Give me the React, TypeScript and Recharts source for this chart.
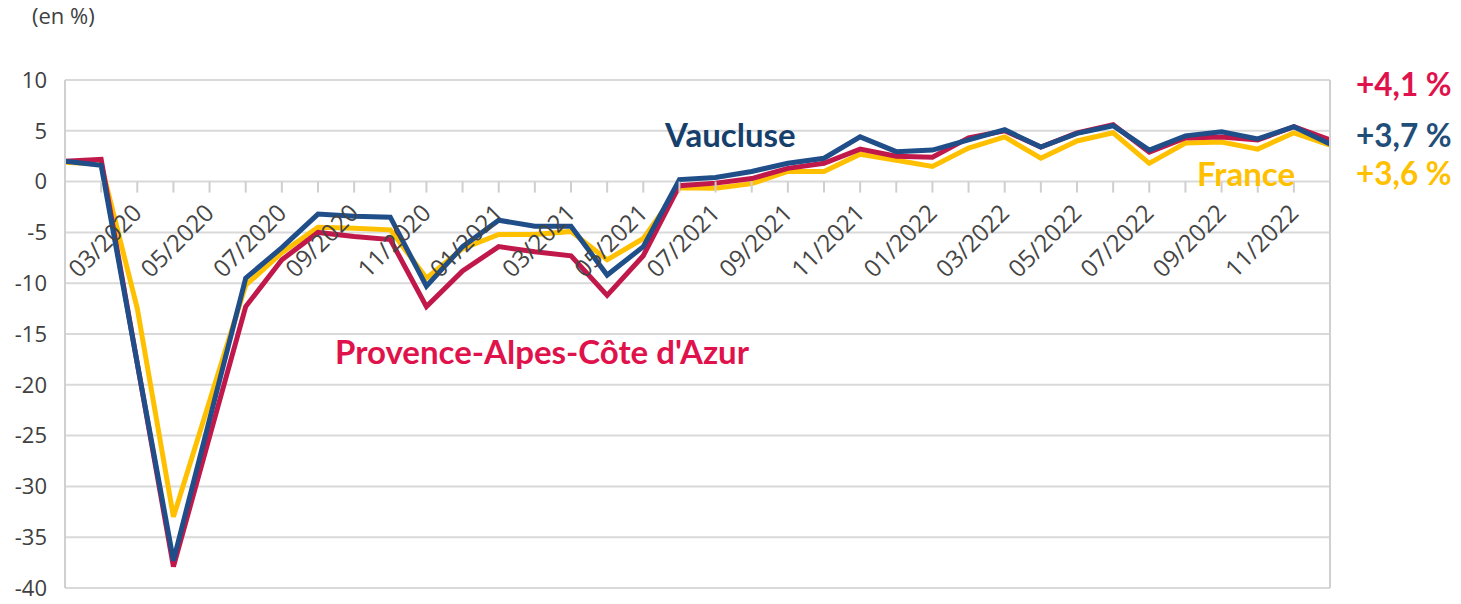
import { LineChart, Line, XAxis, YAxis, CartesianGrid } from 'recharts'

const months = [
  '01/2020', '02/2020', '03/2020', '04/2020', '05/2020', '06/2020',
  '07/2020', '08/2020', '09/2020', '10/2020', '11/2020', '12/2020',
  '01/2021', '02/2021', '03/2021', '04/2021', '05/2021', '06/2021',
  '07/2021', '08/2021', '09/2021', '10/2021', '11/2021', '12/2021',
  '01/2022', '02/2022', '03/2022', '04/2022', '05/2022', '06/2022',
  '07/2022', '08/2022', '09/2022', '10/2022', '11/2022', '12/2022',
]

// évolution annuelle, en %
const vaucluse = [
  2.0, 1.6, -17.9, -37.3, -23.4, -9.5, -6.5, -3.2, -3.4, -3.5, -10.3, -6.4,
  -3.8, -4.4, -4.4, -9.2, -6.4, 0.2, 0.4, 1.0, 1.8, 2.3, 4.4, 2.95,
  3.1, 4.1, 5.1, 3.4, 4.75, 5.5, 3.1, 4.5, 4.9, 4.2, 5.4, 3.7,
]
const paca = [
  2.0, 2.2, -17.9, -37.9, -25.1, -12.3, -7.7, -5.0, -5.4, -5.7, -12.3, -8.8,
  -6.4, -6.9, -7.3, -11.2, -7.3, -0.4, -0.15, 0.3, 1.3, 1.8, 3.2, 2.5,
  2.4, 4.3, 5.0, 3.4, 4.8, 5.6, 2.9, 4.3, 4.4, 4.1, 5.4, 4.1,
]
const france = [
  1.9, 1.7, -12.5, -33.0, -21.6, -10.2, -7.0, -4.5, -4.6, -4.75, -9.5, -6.6,
  -5.2, -5.2, -4.9, -7.7, -5.6, -0.6, -0.65, -0.2, 1.0, 1.0, 2.7, 2.1,
  1.5, 3.3, 4.4, 2.3, 4.0, 4.8, 1.8, 3.8, 3.9, 3.2, 4.8, 3.6,
]

const yTicks = [-40, -35, -30, -25, -20, -15, -10, -5, 0, 5, 10]

const W = 1461
const H = 604
const X_AXIS_H = 16
const M = { top: 80, right: 130, bottom: 0, left: 0 }
const Y_MIN = -40
const Y_MAX = 10
const PLOT_H = H - M.top - M.bottom - X_AXIS_H

const data = months.map((m, i) => ({
  month: m,
  vaucluse: vaucluse[i],
  paca: paca[i],
  france: france[i],
}))

// axe des mois posé sur la ligne du zéro
function MonthTick(props: any) {
  const { x, y, payload, index } = props
  const zeroY = y - (PLOT_H * (0 - Y_MIN)) / (Y_MAX - Y_MIN)
  const showLabel = index > 0 && index % 2 === 0
  const tx = x + 6
  const ty = zeroY + 33
  return (
    <g>
      <line x1={x} x2={x} y1={zeroY} y2={zeroY + 11} stroke="#cfcfcf" strokeWidth={2} />
      {showLabel && (
        <text
          x={tx}
          y={ty}
          transform={`rotate(-45, ${tx}, ${ty})`}
          textAnchor="end"
          fontFamily="'Open Sans', sans-serif"
          fontSize={24}
          fill="#454545"
        >
          {payload.value}
        </text>
      )}
    </g>
  )
}

const labelFont = "Lato, 'Open Sans', sans-serif"

export default function App() {
  return (
    <div style={{ position: 'absolute', left: 0, top: 0, width: W, height: H, background: '#fff' }}>
      <LineChart width={W} height={H} data={data} margin={M}>
        <CartesianGrid vertical={false} stroke="#d9d9d9" strokeWidth={2} />
        <XAxis
          dataKey="month"
          interval={0}
          height={X_AXIS_H}
          tickSize={0}
          tickMargin={0}
          axisLine={false}
          tickLine={false}
          tick={<MonthTick />}
        />
        <YAxis
          domain={[Y_MIN, Y_MAX]}
          ticks={yTicks}
          width={65}
          tickLine={false}
          tickSize={16}
          tickMargin={2}
          axisLine={{ stroke: '#d0d0d0', strokeWidth: 2 }}
          tick={{ fontFamily: "'Open Sans', sans-serif", fontSize: 22, fill: '#404040' }}
        />
        <YAxis
          yAxisId="r"
          orientation="right"
          domain={[Y_MIN, Y_MAX]}
          width={1}
          tick={false}
          tickLine={false}
          axisLine={{ stroke: '#d0d0d0', strokeWidth: 2 }}
        />
        <Line type="linear" dataKey="france" stroke="#ffc000" strokeWidth={5} dot={false} isAnimationActive={false} />
        <Line type="linear" dataKey="paca" stroke="#c0184a" strokeWidth={5} dot={false} isAnimationActive={false} />
        <Line type="linear" dataKey="vaucluse" stroke="#1f4e89" strokeWidth={5} dot={false} isAnimationActive={false} />
      </LineChart>
      <svg width={W} height={H} style={{ position: 'absolute', left: 0, top: 0, pointerEvents: 'none' }}>
        <text x={32} y={24} fontFamily="'Open Sans', sans-serif" fontSize={22} fill="#404040">(en %)</text>
        <g fontFamily={labelFont} fontWeight={700}>
          <text x={665} y={147} fontSize={33} fill="#173f6b">Vaucluse</text>
          <text x={335} y={364} fontSize={33} fill="#e0124b">Provence-Alpes-Côte d'Azur</text>
          <text x={1197} y={186} fontSize={33} fill="#ffc000">France</text>
          <text x={1356} y={96} fontSize={31.5} fill="#e0124b">+4,1 %</text>
          <text x={1356} y={147} fontSize={31.5} fill="#1f4e79">+3,7 %</text>
          <text x={1356} y={185} fontSize={31.5} fill="#ffc000">+3,6 %</text>
        </g>
      </svg>
    </div>
  )
}
